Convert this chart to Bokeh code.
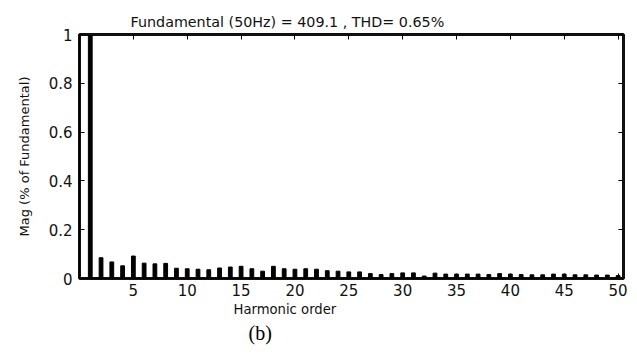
from bokeh.plotting import figure
from bokeh.models import Range1d, LinearAxis, FixedTicker, Title, Label, Span
from bokeh.embed import file_html
from bokeh.resources import INLINE

harmonics = list(range(1, 51))
magnitudes = [1.0, 0.085, 0.068, 0.052, 0.092, 0.063, 0.060, 0.062, 0.042, 0.040,
              0.038, 0.036, 0.043, 0.047, 0.050, 0.040, 0.030, 0.050, 0.040, 0.038,
              0.040, 0.038, 0.032, 0.030, 0.027, 0.027, 0.020, 0.016, 0.020, 0.023,
              0.023, 0.010, 0.022, 0.018, 0.018, 0.018, 0.018, 0.016, 0.020, 0.018,
              0.016, 0.015, 0.015, 0.018, 0.018, 0.015, 0.015, 0.014, 0.014, 0.012]
x_ticks = [5, 10, 15, 20, 25, 30, 35, 40, 45, 50]
y_ticks = [0, 0.2, 0.4, 0.6, 0.8, 1]
y_tick_labels = {0: "0", 0.2: "0.2", 0.4: "0.4", 0.6: "0.6", 0.8: "0.8", 1: "1"}
title_text = "Fundamental (50Hz) = 409.1 , THD= 0.65%"
x_label = "Harmonic order"
y_label = "Mag (% of Fundamental)"
caption = "(b)"

FONT = "DejaVu Sans"
INK = "#111111"

xr = Range1d(0, 50.5)
yr = Range1d(0, 1)
p = figure(width=637, height=356, output_backend="svg", toolbar_location=None,
           x_range=xr, y_range=yr,
           min_border_left=79, min_border_right=14, min_border_top=34, min_border_bottom=78,
           background_fill_color="white", border_fill_color="white")
p.xgrid.visible = False
p.ygrid.visible = False
p.outline_line_color = "#101010"
p.outline_line_width = 3

p.vbar(x=harmonics, top=magnitudes, width=0.35, bottom=0,
       fill_color="black", line_color="black")

def style(ax):
    ax.axis_line_color = "black"
    ax.major_tick_line_color = "black"
    ax.major_tick_in = 5
    ax.major_tick_out = 0
    ax.minor_tick_line_color = None
    ax.major_label_text_font = FONT
    ax.major_label_text_font_size = "15px"
    ax.major_label_text_color = INK
    ax.major_label_standoff = 6
    ax.axis_label_text_font = FONT
    ax.axis_label_text_font_size = "13px"
    ax.axis_label_text_font_style = "normal"
    ax.axis_label_text_color = INK

xa = p.xaxis[0]
xa.ticker = FixedTicker(ticks=x_ticks)
style(xa)
xa.major_label_standoff = 5
ya = p.yaxis[0]
ya.ticker = FixedTicker(ticks=y_ticks)
ya.major_label_overrides = y_tick_labels
style(ya)
ya.major_label_standoff = 7
ya.axis_label = y_label
ya.axis_label_standoff = 14

top_ax = LinearAxis(ticker=FixedTicker(ticks=x_ticks))
style(top_ax)
top_ax.axis_line_color = "#101010"
top_ax.major_label_overrides = {t: "" for t in x_ticks}
top_ax.major_label_standoff = 0
p.add_layout(top_ax, "above")
right_ax = LinearAxis(ticker=FixedTicker(ticks=y_ticks))
style(right_ax)
right_ax.axis_line_color = "#101010"
right_ax.major_label_overrides = {t: "" for t in y_ticks}
right_ax.major_label_standoff = 0
p.add_layout(right_ax, "right")

# invisible helpers in the frame (as in the run where the frame box rendered)
p.add_layout(Label(x=30, y=0.5, text=" ", text_font_size="20px", text_alpha=0))
p.add_layout(Span(location=40, dimension="height", line_color="white", line_alpha=0, line_width=2))

p.title.text = title_text
p.title.text_font = FONT
p.title.text_font_size = "14.3px"
p.title.text_font_style = "normal"
p.title.text_color = INK
p.title.align = "left"
p.title.offset = 51
p.title.standoff = 9

xl = Title(text=x_label, text_font=FONT, text_font_size="13.2px",
           text_font_style="normal", text_color=INK, align="left",
           offset=154, standoff=2)
p.add_layout(xl, "below")
cap = Title(text=caption, text_font="Liberation Serif", text_font_size="20px",
            text_font_style="normal", text_color="black", align="left",
            offset=169, standoff=5)
p.add_layout(cap, "below")

open("out.html", "w").write(file_html(p, INLINE))
